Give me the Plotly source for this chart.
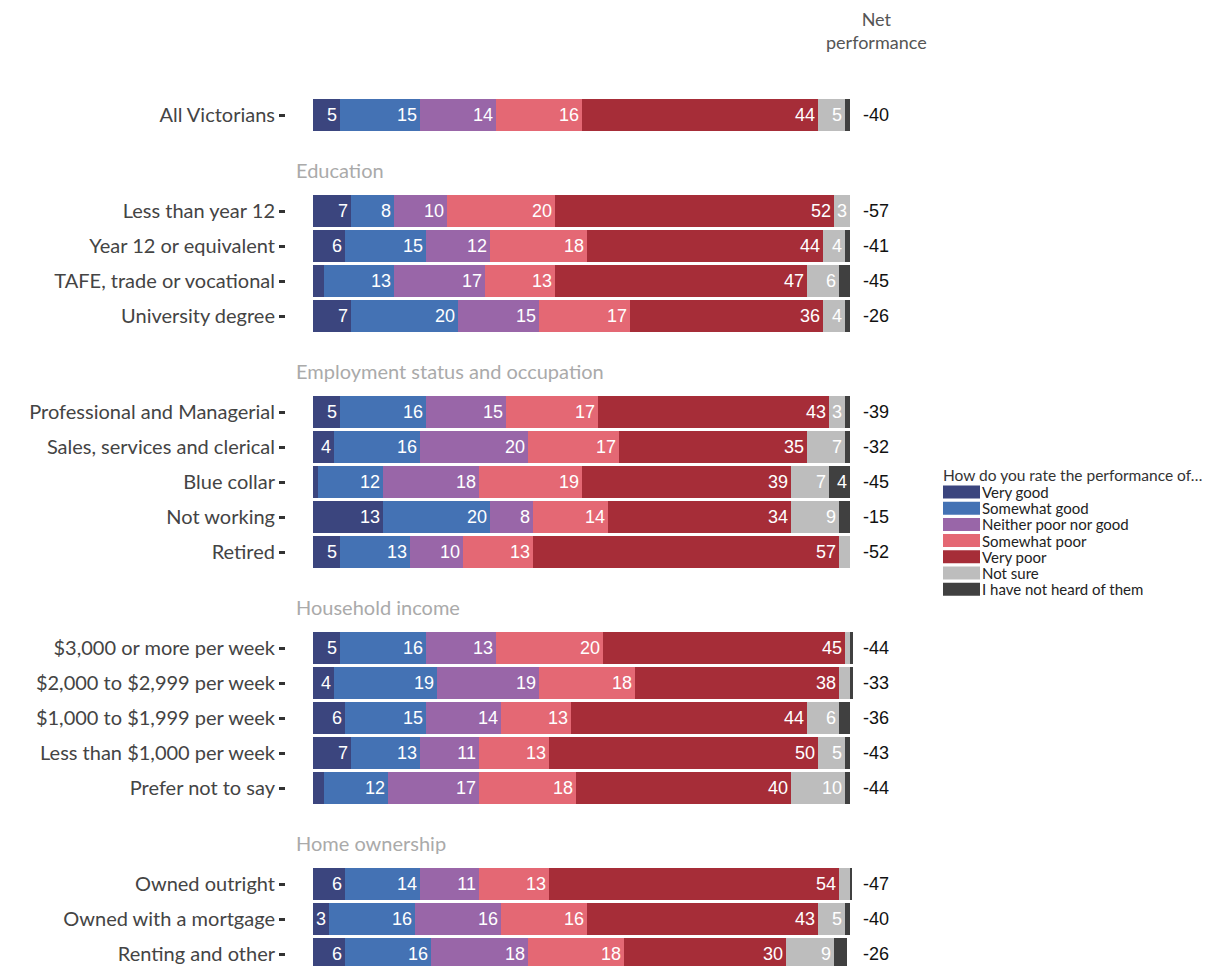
import plotly.graph_objects as go

# ---------------- data ----------------
categories = [
    "All Victorians",
    "Less than year 12", "Year 12 or equivalent", "TAFE, trade or vocational", "University degree",
    "Professional and Managerial", "Sales, services and clerical", "Blue collar", "Not working", "Retired",
    "$3,000 or more per week", "$2,000 to $2,999 per week", "$1,000 to $1,999 per week",
    "Less than $1,000 per week", "Prefer not to say",
    "Owned outright", "Owned with a mortgage", "Renting and other",
]
group_of = [
    "",
    "Education", "Education", "Education", "Education",
    "Employment status and occupation", "Employment status and occupation",
    "Employment status and occupation", "Employment status and occupation",
    "Employment status and occupation",
    "Household income", "Household income", "Household income", "Household income", "Household income",
    "Home ownership", "Home ownership", "Home ownership",
]
series_names = ["Very good", "Somewhat good", "Neither poor nor good", "Somewhat poor",
                "Very poor", "Not sure", "I have not heard of them"]
series_colors = ["#3b457e", "#4472b4", "#9966a8", "#e46874", "#a62d38", "#bdbdbd", "#404040"]

very_good     = [5, 7, 6, 2, 7, 5, 4, 1, 13, 5, 5, 4, 6, 7, 2, 6, 3, 6]
somewhat_good = [15, 8, 15, 13, 20, 16, 16, 12, 20, 13, 16, 19, 15, 13, 12, 14, 16, 16]
neither       = [14, 10, 12, 17, 15, 15, 20, 18, 8, 10, 13, 19, 14, 11, 17, 11, 16, 18]
somewhat_poor = [16, 20, 18, 13, 17, 17, 17, 19, 14, 13, 20, 18, 13, 13, 18, 13, 16, 18]
very_poor     = [44, 52, 44, 47, 36, 43, 35, 39, 34, 57, 45, 38, 44, 50, 40, 54, 43, 30]
not_sure      = [5, 3, 4, 6, 4, 3, 7, 7, 9, 2, 1, 2, 6, 5, 10, 2, 5, 9]
not_heard     = [1, 0, 1, 2, 1, 1, 1, 4, 2, 0, 0.5, 0.5, 2, 1, 1, 0.4, 1, 2.5]
net_performance = [-40, -57, -41, -45, -26, -39, -32, -45, -15, -52, -44, -33, -36, -43, -44, -47, -40, -26]

series_values = [very_good, somewhat_good, neither, somewhat_poor, very_poor, not_sure, not_heard]

legend_title = "How do you rate the performance of…"
net_title = "Net<br>performance"

# ---------------- layout helpers ----------------
OFF = 8              # page body margin
W, H = 1230 - OFF, 966 - OFF
PX_X = 5.37          # pixels per percentage point
X0_PX = 313          # page pixel of 0%
ROW_PX = 35.0        # pixels per row
Y0_PX = 115          # page pixel of first row
GROUP_GAP = 96 / ROW_PX
HEADER_OFF = 41 / ROW_PX

def dx(px):
    return (px - X0_PX) / PX_X

def dy(py):
    return (py - Y0_PX) / ROW_PX

positions = []
headers = []
pos = 0.0
prev = None
for i, g in enumerate(group_of):
    if i > 0:
        pos += GROUP_GAP if g != prev else 1.0
        if g != prev:
            headers.append((g, pos - HEADER_OFF))
    positions.append(pos)
    prev = g

label_font = "Lato, 'Noto Sans', sans-serif"
num_font = "'Liberation Sans', Arial, sans-serif"

fig = go.Figure()
for name, color, vals in zip(series_names, series_colors, series_values):
    fig.add_trace(go.Bar(
        y=positions, x=vals, name=name, orientation="h",
        marker=dict(color=color, line=dict(width=0)),
        width=0.91,
        text=[str(int(round(v))) if v >= 3 else "" for v in vals],
        textposition="inside", insidetextanchor="end",
        textfont=dict(color="white", size=18, family=num_font),
        showlegend=False, hoverinfo="x+name",
    ))

annotations = []
for p, v in zip(positions, net_performance):
    annotations.append(dict(x=dx(876), y=p, text=str(v), showarrow=False,
                            xanchor="center", yanchor="middle",
                            font=dict(size=18, color="#111", family=num_font)))
annotations.append(dict(x=dx(876), y=dy(30), text=net_title, showarrow=False,
                        xanchor="center", yanchor="middle",
                        font=dict(size=18, color="#555", family=label_font)))
for g, yp in headers:
    annotations.append(dict(x=dx(294), y=yp, text=g, showarrow=False,
                            xanchor="left", yanchor="middle",
                            font=dict(size=20, color="#aaaaaa", family=label_font)))

shapes = []
annotations.append(dict(x=dx(941), y=dy(475), text=legend_title, showarrow=False,
                        xanchor="left", yanchor="middle",
                        font=dict(size=15.5, color="#333", family=label_font)))
for k, (name, color) in enumerate(zip(series_names, series_colors)):
    cy = 492 + k * 16.2
    shapes.append(dict(type="rect", xref="x", yref="y",
                       x0=dx(943), x1=dx(980), y0=dy(cy - 6.5), y1=dy(cy + 6.5),
                       fillcolor=color, line=dict(width=0)))
    annotations.append(dict(x=dx(980), y=dy(cy), text=name, showarrow=False,
                            xanchor="left", yanchor="middle",
                            font=dict(size=15, color="#222", family=label_font)))

fig.update_layout(
    barmode="stack",
    width=W, height=H,
    margin=dict(l=286 - OFF, r=0, t=0, b=0),
    plot_bgcolor="white", paper_bgcolor="white",
    annotations=annotations, shapes=shapes,
    uniformtext=dict(minsize=18, mode="show"),
    bargap=0,
)
fig.update_xaxes(range=[dx(286), dx(1230)], visible=False, fixedrange=True)
fig.update_yaxes(range=[dy(966), dy(OFF)], tickvals=positions, ticktext=categories,
                 ticks="outside", ticklen=6, tickwidth=3, tickcolor="#333",
                 showgrid=False, zeroline=False, showline=False,
                 tickfont=dict(size=20, color="#444", family=label_font))

fig.write_html("out.html")
